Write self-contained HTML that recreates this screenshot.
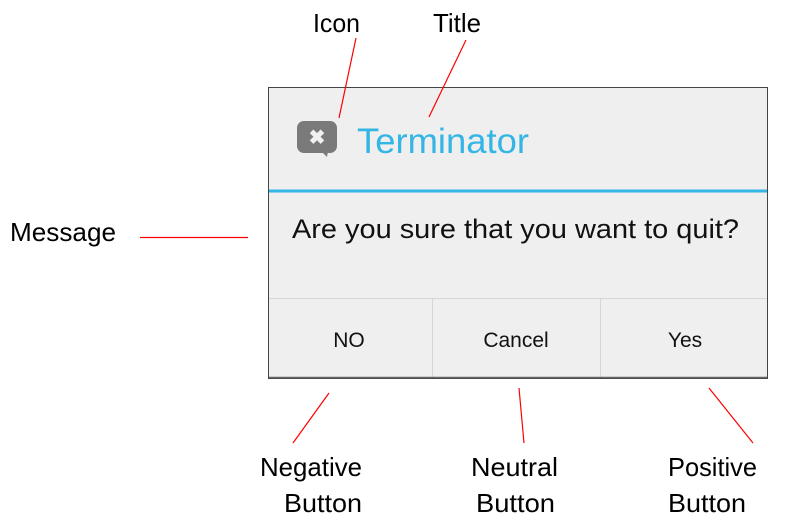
<!DOCTYPE html>
<html><head><style>html,body{margin:0;padding:0;background:#fff;}svg{display:block}</style></head>
<body>
<svg width="793" height="528" viewBox="0 0 793 528" xmlns="http://www.w3.org/2000/svg">
<g font-family="Liberation Sans, sans-serif">
<rect x="268.5" y="87.5" width="499" height="291" fill="#efefef" stroke="#444" stroke-width="1"/>
<rect x="269" y="189.5" width="498" height="3" fill="#33b5e5"/>
<line x1="269" y1="298.5" x2="767" y2="298.5" stroke="#d6d6d6" stroke-width="1"/>
<line x1="432.5" y1="299" x2="432.5" y2="378" stroke="#d6d6d6" stroke-width="1"/>
<line x1="600.5" y1="299" x2="600.5" y2="378" stroke="#d6d6d6" stroke-width="1"/>
<line x1="269" y1="377.5" x2="767" y2="377.5" stroke="#666" stroke-width="1.5"/>
<rect x="297" y="121" width="40" height="32" rx="7" fill="#7a7a7a"/>
<polygon points="321,151 328,151 327,157" fill="#7a7a7a"/>
<text x="317" y="144" font-size="20" font-weight="bold" fill="#f0f0f0" text-anchor="middle">✖</text>
<text x="357" y="153" font-size="35" fill="#33b5e5" textLength="172" lengthAdjust="spacingAndGlyphs">Terminator</text>
<text x="292" y="238" font-size="27" fill="#111" textLength="447" lengthAdjust="spacingAndGlyphs">Are you sure that you want to quit?</text>
<text x="349" y="347" font-size="21" fill="#111" text-anchor="middle">NO</text>
<text x="516" y="347" font-size="21" fill="#111" text-anchor="middle">Cancel</text>
<text x="685" y="347" font-size="21" fill="#111" text-anchor="middle">Yes</text>
<g stroke="#ff0000" stroke-width="1.2">
<line x1="356" y1="38" x2="339" y2="118"/>
<line x1="466" y1="40" x2="429" y2="117"/>
<line x1="140" y1="237.5" x2="248" y2="237.5"/>
<line x1="329" y1="393" x2="293" y2="443"/>
<line x1="519" y1="388" x2="524" y2="443"/>
<line x1="709" y1="388" x2="753" y2="443"/>
</g>
<g font-size="26" fill="#000">
<text x="313" y="32" textLength="47" lengthAdjust="spacingAndGlyphs">Icon</text>
<text x="433" y="32" textLength="48" lengthAdjust="spacingAndGlyphs">Title</text>
<text x="10" y="241" textLength="106" lengthAdjust="spacingAndGlyphs">Message</text>
<text x="260" y="476" textLength="102" lengthAdjust="spacingAndGlyphs">Negative</text>
<text x="284" y="512" textLength="78" lengthAdjust="spacingAndGlyphs">Button</text>
<text x="471" y="476" textLength="87" lengthAdjust="spacingAndGlyphs">Neutral</text>
<text x="476" y="512" textLength="79" lengthAdjust="spacingAndGlyphs">Button</text>
<text x="668" y="476" textLength="89" lengthAdjust="spacingAndGlyphs">Positive</text>
<text x="668" y="512" textLength="78" lengthAdjust="spacingAndGlyphs">Button</text>
</g>
</g>
</svg>
</body></html>
